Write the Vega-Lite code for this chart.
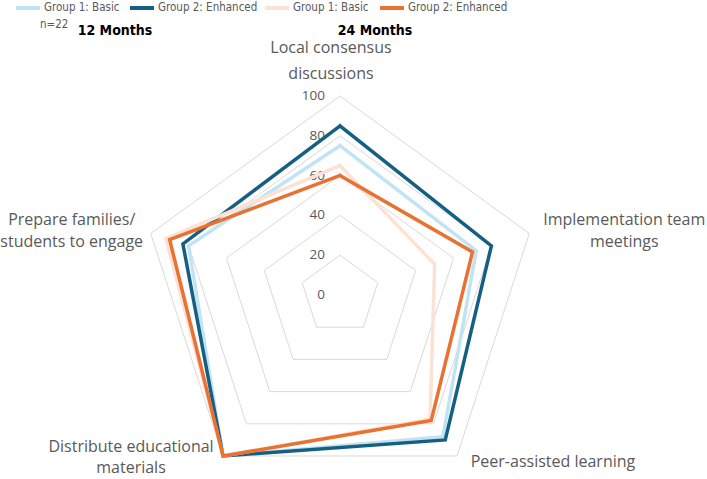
{
  "$schema": "https://vega.github.io/schema/vega-lite/v6.json",
  "width": 707,
  "height": 479,
  "padding": 0,
  "autosize": {"type": "none"},
  "config": {
    "view": {"stroke": null},
    "font": "Open Sans",
    "text": {"color": "#595959"},
    "legend": {
      "orient": "none",
      "legendY": -6,
      "direction": "horizontal",
      "symbolType": "stroke",
      "symbolSize": 576,
      "symbolStrokeWidth": 4,
      "labelFont": "DejaVu Sans Condensed",
      "labelFontSize": 11.5,
      "labelColor": "#595959",
      "labelOffset": 2
    }
  },
  "datasets": {
    "scores": [
      {"period": "12 Months", "group": "Group 1: Basic", "category": "Local consensus discussions", "value": 75},
      {"period": "12 Months", "group": "Group 1: Basic", "category": "Implementation team meetings", "value": 72},
      {"period": "12 Months", "group": "Group 1: Basic", "category": "Peer-assisted learning", "value": 88},
      {"period": "12 Months", "group": "Group 1: Basic", "category": "Distribute educational materials", "value": 100},
      {"period": "12 Months", "group": "Group 1: Basic", "category": "Prepare families/ students to engage", "value": 80},
      {"period": "12 Months", "group": "Group 2: Enhanced", "category": "Local consensus discussions", "value": 85},
      {"period": "12 Months", "group": "Group 2: Enhanced", "category": "Implementation team meetings", "value": 80},
      {"period": "12 Months", "group": "Group 2: Enhanced", "category": "Peer-assisted learning", "value": 90},
      {"period": "12 Months", "group": "Group 2: Enhanced", "category": "Distribute educational materials", "value": 100},
      {"period": "12 Months", "group": "Group 2: Enhanced", "category": "Prepare families/ students to engage", "value": 83},
      {"period": "24 Months", "group": "Group 1: Basic", "category": "Local consensus discussions", "value": 65},
      {"period": "24 Months", "group": "Group 1: Basic", "category": "Implementation team meetings", "value": 50},
      {"period": "24 Months", "group": "Group 1: Basic", "category": "Peer-assisted learning", "value": 77},
      {"period": "24 Months", "group": "Group 1: Basic", "category": "Distribute educational materials", "value": 100},
      {"period": "24 Months", "group": "Group 1: Basic", "category": "Prepare families/ students to engage", "value": 92},
      {"period": "24 Months", "group": "Group 2: Enhanced", "category": "Local consensus discussions", "value": 60},
      {"period": "24 Months", "group": "Group 2: Enhanced", "category": "Implementation team meetings", "value": 70},
      {"period": "24 Months", "group": "Group 2: Enhanced", "category": "Peer-assisted learning", "value": 78},
      {"period": "24 Months", "group": "Group 2: Enhanced", "category": "Distribute educational materials", "value": 100},
      {"period": "24 Months", "group": "Group 2: Enhanced", "category": "Prepare families/ students to engage", "value": 90}
    ],
    "categories": [
      {"category": "Local consensus discussions", "label": "Local consensus\ndiscussions"},
      {"category": "Implementation team meetings", "label": "Implementation team\nmeetings"},
      {"category": "Peer-assisted learning", "label": "Peer-assisted learning"},
      {"category": "Distribute educational materials", "label": "Distribute educational\nmaterials"},
      {"category": "Prepare families/ students to engage", "label": "Prepare families/\nstudents to engage"}
    ],
    "levels": [
      {"level": 0}, {"level": 20}, {"level": 40}, {"level": 60}, {"level": 80}, {"level": 100}
    ]
  },
  "layer": [
    {
      "description": "pentagon gridlines, one ring per level",
      "data": {"name": "levels"},
      "transform": [
        {"filter": "datum.level > 0"},
        {"calculate": "[0, 1, 2, 3, 4, 5]", "as": "k"},
        {"flatten": ["k"]},
        {"calculate": "datum.level * sin(2 * PI * datum.k / 5)", "as": "px"},
        {"calculate": "datum.level * cos(2 * PI * datum.k / 5)", "as": "py"}
      ],
      "mark": {"type": "line", "color": "#d9d9d9", "strokeWidth": 1, "strokeJoin": "miter"},
      "encoding": {
        "x": {"field": "px", "type": "quantitative", "scale": {"domain": [-170.85, 184.42], "nice": false, "zero": false}, "axis": null},
        "y": {"field": "py", "type": "quantitative", "scale": {"domain": [-92.46, 148.24], "nice": false, "zero": false}, "axis": null},
        "detail": {"field": "level", "type": "nominal"},
        "order": {"field": "k", "type": "quantitative"}
      }
    },
    {
      "description": "value labels along the top spoke",
      "data": {"name": "levels"},
      "transform": [{"calculate": "0", "as": "px"}],
      "mark": {"type": "text", "align": "right", "baseline": "middle", "dx": -15, "fontSize": 13.5, "color": "#595959"},
      "encoding": {
        "x": {"field": "px", "type": "quantitative", "scale": {"domain": [-170.85, 184.42], "nice": false, "zero": false}, "axis": null},
        "y": {"field": "level", "type": "quantitative", "scale": {"domain": [-92.46, 148.24], "nice": false, "zero": false}, "axis": null},
        "text": {"field": "level", "type": "quantitative"}
      }
    },
    {
      "data": {"name": "categories"},
      "transform": [
        {"filter": "datum.category == 'Local consensus discussions'"},
        {"calculate": "indexof(['Local consensus discussions', 'Implementation team meetings', 'Peer-assisted learning', 'Distribute educational materials', 'Prepare families/ students to engage'], datum.category)", "as": "idx"},
        {"calculate": "100 * sin(2 * PI * datum.idx / 5)", "as": "px"},
        {"calculate": "100 * cos(2 * PI * datum.idx / 5)", "as": "py"}
      ],
      "mark": {"type": "text", "align": "center", "baseline": "middle", "lineBreak": "\n", "lineHeight": 26, "fontSize": 16, "color": "#595959", "dx": -9, "dy": -48},
      "encoding": {
        "x": {"field": "px", "type": "quantitative", "scale": {"domain": [-170.85, 184.42], "nice": false, "zero": false}, "axis": null},
        "y": {"field": "py", "type": "quantitative", "scale": {"domain": [-92.46, 148.24], "nice": false, "zero": false}, "axis": null},
        "text": {"field": "label", "type": "nominal"}
      }
    },
    {
      "data": {"name": "categories"},
      "transform": [
        {"filter": "datum.category == 'Implementation team meetings'"},
        {"calculate": "indexof(['Local consensus discussions', 'Implementation team meetings', 'Peer-assisted learning', 'Distribute educational materials', 'Prepare families/ students to engage'], datum.category)", "as": "idx"},
        {"calculate": "100 * sin(2 * PI * datum.idx / 5)", "as": "px"},
        {"calculate": "100 * cos(2 * PI * datum.idx / 5)", "as": "py"}
      ],
      "mark": {"type": "text", "align": "center", "baseline": "middle", "lineBreak": "\n", "lineHeight": 22, "fontSize": 16, "color": "#595959", "dx": 95, "dy": -13.5},
      "encoding": {
        "x": {"field": "px", "type": "quantitative", "scale": {"domain": [-170.85, 184.42], "nice": false, "zero": false}, "axis": null},
        "y": {"field": "py", "type": "quantitative", "scale": {"domain": [-92.46, 148.24], "nice": false, "zero": false}, "axis": null},
        "text": {"field": "label", "type": "nominal"}
      }
    },
    {
      "data": {"name": "categories"},
      "transform": [
        {"filter": "datum.category == 'Peer-assisted learning'"},
        {"calculate": "indexof(['Local consensus discussions', 'Implementation team meetings', 'Peer-assisted learning', 'Distribute educational materials', 'Prepare families/ students to engage'], datum.category)", "as": "idx"},
        {"calculate": "100 * sin(2 * PI * datum.idx / 5)", "as": "px"},
        {"calculate": "100 * cos(2 * PI * datum.idx / 5)", "as": "py"}
      ],
      "mark": {"type": "text", "align": "center", "baseline": "middle", "lineBreak": "\n", "lineHeight": 22, "fontSize": 16, "color": "#595959", "dx": 96, "dy": 6},
      "encoding": {
        "x": {"field": "px", "type": "quantitative", "scale": {"domain": [-170.85, 184.42], "nice": false, "zero": false}, "axis": null},
        "y": {"field": "py", "type": "quantitative", "scale": {"domain": [-92.46, 148.24], "nice": false, "zero": false}, "axis": null},
        "text": {"field": "label", "type": "nominal"}
      }
    },
    {
      "data": {"name": "categories"},
      "transform": [
        {"filter": "datum.category == 'Distribute educational materials'"},
        {"calculate": "indexof(['Local consensus discussions', 'Implementation team meetings', 'Peer-assisted learning', 'Distribute educational materials', 'Prepare families/ students to engage'], datum.category)", "as": "idx"},
        {"calculate": "100 * sin(2 * PI * datum.idx / 5)", "as": "px"},
        {"calculate": "100 * cos(2 * PI * datum.idx / 5)", "as": "py"}
      ],
      "mark": {"type": "text", "align": "center", "baseline": "middle", "lineBreak": "\n", "lineHeight": 21, "fontSize": 16, "color": "#595959", "dx": -92, "dy": -9},
      "encoding": {
        "x": {"field": "px", "type": "quantitative", "scale": {"domain": [-170.85, 184.42], "nice": false, "zero": false}, "axis": null},
        "y": {"field": "py", "type": "quantitative", "scale": {"domain": [-92.46, 148.24], "nice": false, "zero": false}, "axis": null},
        "text": {"field": "label", "type": "nominal"}
      }
    },
    {
      "data": {"name": "categories"},
      "transform": [
        {"filter": "datum.category == 'Prepare families/ students to engage'"},
        {"calculate": "indexof(['Local consensus discussions', 'Implementation team meetings', 'Peer-assisted learning', 'Distribute educational materials', 'Prepare families/ students to engage'], datum.category)", "as": "idx"},
        {"calculate": "100 * sin(2 * PI * datum.idx / 5)", "as": "px"},
        {"calculate": "100 * cos(2 * PI * datum.idx / 5)", "as": "py"}
      ],
      "mark": {"type": "text", "align": "center", "baseline": "middle", "lineBreak": "\n", "lineHeight": 22, "fontSize": 16, "color": "#595959", "dx": -79, "dy": -13.5},
      "encoding": {
        "x": {"field": "px", "type": "quantitative", "scale": {"domain": [-170.85, 184.42], "nice": false, "zero": false}, "axis": null},
        "y": {"field": "py", "type": "quantitative", "scale": {"domain": [-92.46, 148.24], "nice": false, "zero": false}, "axis": null},
        "text": {"field": "label", "type": "nominal"}
      }
    },
    {
      "description": "sample size note",
      "data": {"values": [{}]},
      "mark": {"type": "text", "align": "left", "baseline": "middle", "font": "DejaVu Sans Condensed", "fontSize": 11.5, "color": "#595959"},
      "encoding": {
        "x": {"datum": -150.75, "type": "quantitative", "scale": {"domain": [-170.85, 184.42], "nice": false, "zero": false}, "axis": null},
        "y": {"datum": 135.7, "type": "quantitative", "scale": {"domain": [-92.46, 148.24], "nice": false, "zero": false}, "axis": null},
        "text": {"value": "n=22"}
      }
    },
    {
      "description": "heading for the 12-month series",
      "data": {"values": [{}]},
      "mark": {"type": "text", "align": "center", "baseline": "middle", "font": "DejaVu Sans Condensed", "fontSize": 14, "fontWeight": "bold", "color": "#000000"},
      "encoding": {
        "x": {"datum": -113.07, "type": "quantitative", "scale": {"domain": [-170.85, 184.42], "nice": false, "zero": false}, "axis": null},
        "y": {"datum": 132.66, "type": "quantitative", "scale": {"domain": [-92.46, 148.24], "nice": false, "zero": false}, "axis": null},
        "text": {"value": "12 Months"}
      }
    },
    {
      "description": "heading for the 24-month series",
      "data": {"values": [{}]},
      "mark": {"type": "text", "align": "center", "baseline": "middle", "font": "DejaVu Sans Condensed", "fontSize": 14, "fontWeight": "bold", "color": "#000000"},
      "encoding": {
        "x": {"datum": 17.59, "type": "quantitative", "scale": {"domain": [-170.85, 184.42], "nice": false, "zero": false}, "axis": null},
        "y": {"datum": 132.66, "type": "quantitative", "scale": {"domain": [-92.46, 148.24], "nice": false, "zero": false}, "axis": null},
        "text": {"value": "24 Months"}
      }
    },
    {
      "description": "12 months, basic group",
      "data": {"name": "scores"},
      "transform": [
        {"filter": "datum.period == '12 Months' && datum.group == 'Group 1: Basic'"},
        {"calculate": "indexof(['Local consensus discussions', 'Implementation team meetings', 'Peer-assisted learning', 'Distribute educational materials', 'Prepare families/ students to engage'], datum.category)", "as": "idx"},
        {"calculate": "datum.idx == 0 ? [0, 5] : [datum.idx]", "as": "k"},
        {"flatten": ["k"]},
        {"calculate": "datum.value * sin(2 * PI * datum.k / 5)", "as": "px"},
        {"calculate": "datum.value * cos(2 * PI * datum.k / 5)", "as": "py"}
      ],
      "mark": {"type": "line", "strokeWidth": 3.5, "strokeJoin": "miter", "strokeCap": "square"},
      "encoding": {
        "x": {"field": "px", "type": "quantitative", "scale": {"domain": [-170.85, 184.42], "nice": false, "zero": false}, "axis": null},
        "y": {"field": "py", "type": "quantitative", "scale": {"domain": [-92.46, 148.24], "nice": false, "zero": false}, "axis": null},
        "order": {"field": "k", "type": "quantitative"},
        "color": {
          "field": "group", "type": "nominal",
          "scale": {"domain": ["Group 1: Basic"], "range": ["#c1e4f5"]},
          "legend": {"title": null, "legendX": 14}
        }
      }
    },
    {
      "description": "12 months, enhanced group",
      "data": {"name": "scores"},
      "transform": [
        {"filter": "datum.period == '12 Months' && datum.group == 'Group 2: Enhanced'"},
        {"calculate": "indexof(['Local consensus discussions', 'Implementation team meetings', 'Peer-assisted learning', 'Distribute educational materials', 'Prepare families/ students to engage'], datum.category)", "as": "idx"},
        {"calculate": "datum.idx == 0 ? [0, 5] : [datum.idx]", "as": "k"},
        {"flatten": ["k"]},
        {"calculate": "datum.value * sin(2 * PI * datum.k / 5)", "as": "px"},
        {"calculate": "datum.value * cos(2 * PI * datum.k / 5)", "as": "py"}
      ],
      "mark": {"type": "line", "strokeWidth": 3.5, "strokeJoin": "miter", "strokeCap": "square"},
      "encoding": {
        "x": {"field": "px", "type": "quantitative", "scale": {"domain": [-170.85, 184.42], "nice": false, "zero": false}, "axis": null},
        "y": {"field": "py", "type": "quantitative", "scale": {"domain": [-92.46, 148.24], "nice": false, "zero": false}, "axis": null},
        "order": {"field": "k", "type": "quantitative"},
        "color": {
          "field": "group", "type": "nominal",
          "scale": {"domain": ["Group 2: Enhanced"], "range": ["#156082"]},
          "legend": {"title": null, "legendX": 128}
        }
      }
    },
    {
      "description": "24 months, basic group",
      "data": {"name": "scores"},
      "transform": [
        {"filter": "datum.period == '24 Months' && datum.group == 'Group 1: Basic'"},
        {"calculate": "indexof(['Local consensus discussions', 'Implementation team meetings', 'Peer-assisted learning', 'Distribute educational materials', 'Prepare families/ students to engage'], datum.category)", "as": "idx"},
        {"calculate": "datum.idx == 0 ? [0, 5] : [datum.idx]", "as": "k"},
        {"flatten": ["k"]},
        {"calculate": "datum.value * sin(2 * PI * datum.k / 5)", "as": "px"},
        {"calculate": "datum.value * cos(2 * PI * datum.k / 5)", "as": "py"}
      ],
      "mark": {"type": "line", "strokeWidth": 3.5, "strokeJoin": "miter", "strokeCap": "square"},
      "encoding": {
        "x": {"field": "px", "type": "quantitative", "scale": {"domain": [-170.85, 184.42], "nice": false, "zero": false}, "axis": null},
        "y": {"field": "py", "type": "quantitative", "scale": {"domain": [-92.46, 148.24], "nice": false, "zero": false}, "axis": null},
        "order": {"field": "k", "type": "quantitative"},
        "color": {
          "field": "group", "type": "nominal",
          "scale": {"domain": ["Group 1: Basic"], "range": ["#fbe2d5"]},
          "legend": {"title": null, "legendX": 263}
        }
      }
    },
    {
      "description": "24 months, enhanced group",
      "data": {"name": "scores"},
      "transform": [
        {"filter": "datum.period == '24 Months' && datum.group == 'Group 2: Enhanced'"},
        {"calculate": "indexof(['Local consensus discussions', 'Implementation team meetings', 'Peer-assisted learning', 'Distribute educational materials', 'Prepare families/ students to engage'], datum.category)", "as": "idx"},
        {"calculate": "datum.idx == 0 ? [0, 5] : [datum.idx]", "as": "k"},
        {"flatten": ["k"]},
        {"calculate": "datum.value * sin(2 * PI * datum.k / 5)", "as": "px"},
        {"calculate": "datum.value * cos(2 * PI * datum.k / 5)", "as": "py"}
      ],
      "mark": {"type": "line", "strokeWidth": 3.5, "strokeJoin": "miter", "strokeCap": "square"},
      "encoding": {
        "x": {"field": "px", "type": "quantitative", "scale": {"domain": [-170.85, 184.42], "nice": false, "zero": false}, "axis": null},
        "y": {"field": "py", "type": "quantitative", "scale": {"domain": [-92.46, 148.24], "nice": false, "zero": false}, "axis": null},
        "order": {"field": "k", "type": "quantitative"},
        "color": {
          "field": "group", "type": "nominal",
          "scale": {"domain": ["Group 2: Enhanced"], "range": ["#e97132"]},
          "legend": {"title": null, "legendX": 378}
        }
      }
    }
  ],
  "resolve": {"scale": {"color": "independent"}}
}
